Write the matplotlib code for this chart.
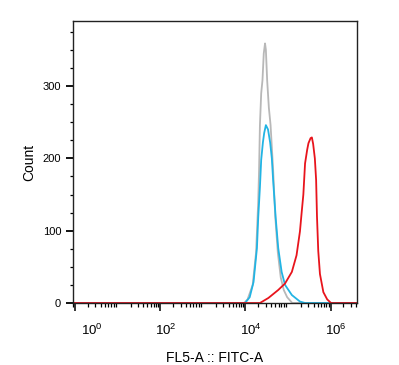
import numpy as np
import matplotlib
matplotlib.use("Agg")
import matplotlib.pyplot as plt
import matplotlib.transforms as mtransforms
from matplotlib.ticker import LogLocator, MultipleLocator, NullFormatter

plt.rcParams['font.family'] = ['Liberation Sans', 'DejaVu Sans']
plt.rcParams['mathtext.fontset'] = 'custom'
plt.rcParams['mathtext.rm'] = 'Liberation Sans'
plt.rcParams['mathtext.it'] = 'Liberation Sans'

# histogram outlines: log10(FITC-A) position, count
gray_log = [0.0, 3.97, 4.05, 4.17, 4.25, 4.30, 4.32, 4.34, 4.37, 4.40, 4.43, 4.46,
            4.48, 4.51, 4.55, 4.59, 4.65, 4.70, 4.76, 4.83, 4.90, 4.98, 5.10, 6.6]
gray_cnt = [0, 0, 5, 25, 70, 140, 184, 246, 290, 308, 345, 359,
            350, 308, 270, 246, 184, 120, 70, 35, 18, 8, 0, 0]

cyan_log = [0.0, 3.99, 4.10, 4.19, 4.27, 4.30, 4.34, 4.37, 4.41, 4.44, 4.48, 4.53,
            4.58, 4.62, 4.65, 4.71, 4.77, 4.85, 4.93, 5.09, 5.28, 5.40, 6.6]
cyan_cnt = [0, 0, 8, 29, 76, 118, 160, 198, 222, 235, 246, 240,
            222, 200, 170, 118, 76, 43, 25, 11, 2, 0, 0]

red_log = [-0.1, 4.34, 4.54, 4.77, 4.93, 5.09, 5.20, 5.28, 5.32, 5.36, 5.40, 5.45,
           5.48, 5.53, 5.56, 5.59, 5.63, 5.66, 5.68, 5.71, 5.75, 5.83, 5.92, 6.01, 6.7]
red_cnt = [0, 0, 7, 18, 27, 43, 66, 99, 125, 150, 193, 212,
           221, 228, 229, 220, 200, 170, 120, 72, 40, 15, 5, 0, 0]

x_ticks = [1e0, 1e2, 1e4, 1e6]
x_labels = ['$10^{0}$', '$10^{2}$', '$10^{4}$', '$10^{6}$']
y_ticks = [0, 100, 200, 300]

fig = plt.figure(figsize=(3.99, 3.65), dpi=100)
ax = fig.add_axes([73 / 399, 1 - 303 / 365, 284 / 399, 282 / 365])

ax.plot(10 ** np.array(gray_log), gray_cnt, color='#b8b8b8', lw=1.3)
ax.plot(10 ** np.array(cyan_log), cyan_cnt, color='#22b4e4', lw=1.3)
ax.plot(10 ** np.array(red_log), red_cnt, color='#e8141c', lw=1.3)

ax.set_xscale('log')
ax.set_xlim(10 ** -0.05, 10 ** 6.62)
ax.set_ylim(0, 390)

ax.set_xticks(x_ticks)
ax.set_xticklabels(x_labels, fontsize=9.5)
ax.xaxis.set_minor_locator(LogLocator(base=10, subs=np.arange(2, 10), numticks=20))
ax.xaxis.set_minor_formatter(NullFormatter())
ax.set_yticks(y_ticks)
ax.set_yticklabels([str(v) for v in y_ticks], fontsize=8)
ax.yaxis.set_minor_locator(MultipleLocator(25))

ax.tick_params(axis='x', which='major', direction='out', length=6, width=1.1, pad=8.5)
ax.tick_params(axis='x', which='minor', direction='out', length=3, width=0.9)
ax.tick_params(axis='y', which='major', direction='out', length=5, width=1.3, pad=3.5)
ax.tick_params(axis='y', which='minor', direction='out', length=2.3, width=0.9)

for s in ax.spines.values():
    s.set_linewidth(1.0)
    s.set_color('#222222')

# FlowJo puts the exponent labels a little to the right of the ticks
shifts = [17, 5, 5, 5]
for lab, dx in zip(ax.get_xticklabels(), shifts):
    lab.set_transform(lab.get_transform() + mtransforms.ScaledTranslation(dx / 100, 0, fig.dpi_scale_trans))

ax.set_xlabel('FL5-A :: FITC-A', fontsize=10, labelpad=9)
ax.set_ylabel('Count', fontsize=10, labelpad=5)

fig.savefig('out.png', dpi=100)
